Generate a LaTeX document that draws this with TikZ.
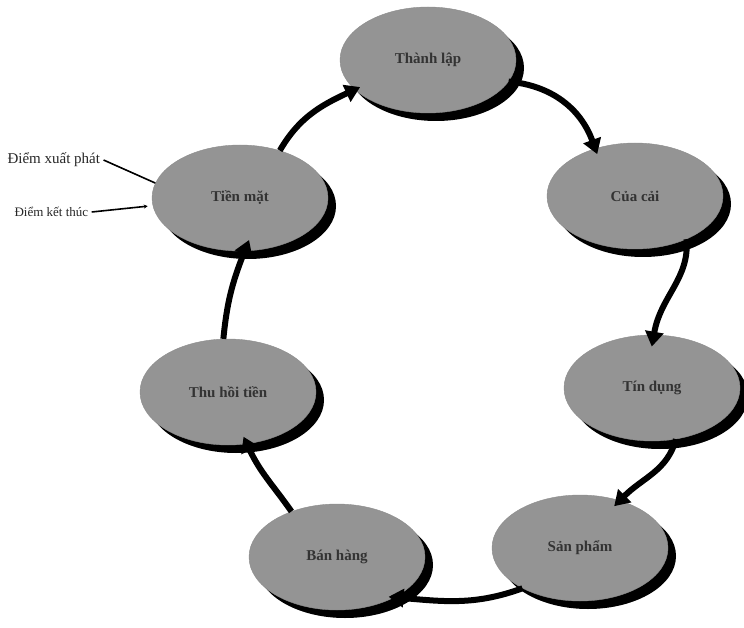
\documentclass[tikz,border=0pt]{standalone}
\usepackage{fontspec}
\setmainfont{Liberation Serif}
\usetikzlibrary{shapes.geometric,shadows,arrows.meta}
\tikzset{
	buoc/.style={ellipse, draw=black!45, fill=black!42, minimum width=176pt, minimum height=106pt, inner sep=0pt,
		font=\fontsize{15}{17}\selectfont\bfseries, text=black!80,
		drop shadow={shadow xshift=8pt, shadow yshift=-8pt, fill=black, opacity=1}},
	muiten/.style={line width=6pt, -{Triangle[length=15pt,width=18pt]}},
	ghichu/.style={anchor=west, text=black!85},
}
\begin{document}
\begin{tikzpicture}[x=1pt, y=-1pt]
	\useasboundingbox (0,0) rectangle (744,628);
	% Các bước của vòng tuần hoàn
	\node[buoc] (tl)  at (428,60)  {Thành lập};
	\node[buoc] (cc)  at (635,196) {Của cải};
	\node[buoc] (td)  at (652,388) {Tín dụng};
	\node[buoc] (sp)  at (580,548) {Sản phẩm};
	\node[buoc] (bh)  at (337,557) {Bán hàng};
	\node[buoc] (tht) at (228,392) {Thu hồi tiền};
	\node[buoc] (tm)  at (240,198) {Tiền mặt};
	% Mũi tên nối các bước
	\draw[muiten, shorten >=-6pt]  (tm.50)   to[out=60, in=205]  (tl.202);
	\draw[muiten, shorten >=-6pt]  (tl.-15)  to[out=-5, in=110]  (cc.130);
	\draw[muiten, shorten >=-12pt] (cc.-40)  to[out=-85, in=80]  (td.88);
	\draw[muiten, shorten >=-8pt]  (td.-65)  to[out=-105, in=45] (sp.50);
	\draw[muiten, shorten >=-6pt]  (sp.215)  to[out=200, in=-5]  (bh.-35);
	\draw[muiten, shorten >=-8pt]  (bh.135)  to[out=125, in=-65] (tht.-70);
	\draw[muiten, shorten >=-12pt] (tht.95)  to[bend left=8]     (tm.-85);
	% Ghi chú điểm đầu và điểm cuối
	\node[ghichu, font=\fontsize{15}{17}\selectfont] (xp) at (4,160) {Điểm xuất phát};
	\node[ghichu, font=\fontsize{13}{15}\selectfont] (kt) at (11,212) {Điểm kết thúc};
	\draw[line width=1.6pt] (xp.east) -- (tm.170);
	\draw[line width=1.6pt, -{Stealth[length=4pt,width=4pt]}, shorten >=5pt] (kt.east) -- (tm.185);
\end{tikzpicture}
\end{document}
